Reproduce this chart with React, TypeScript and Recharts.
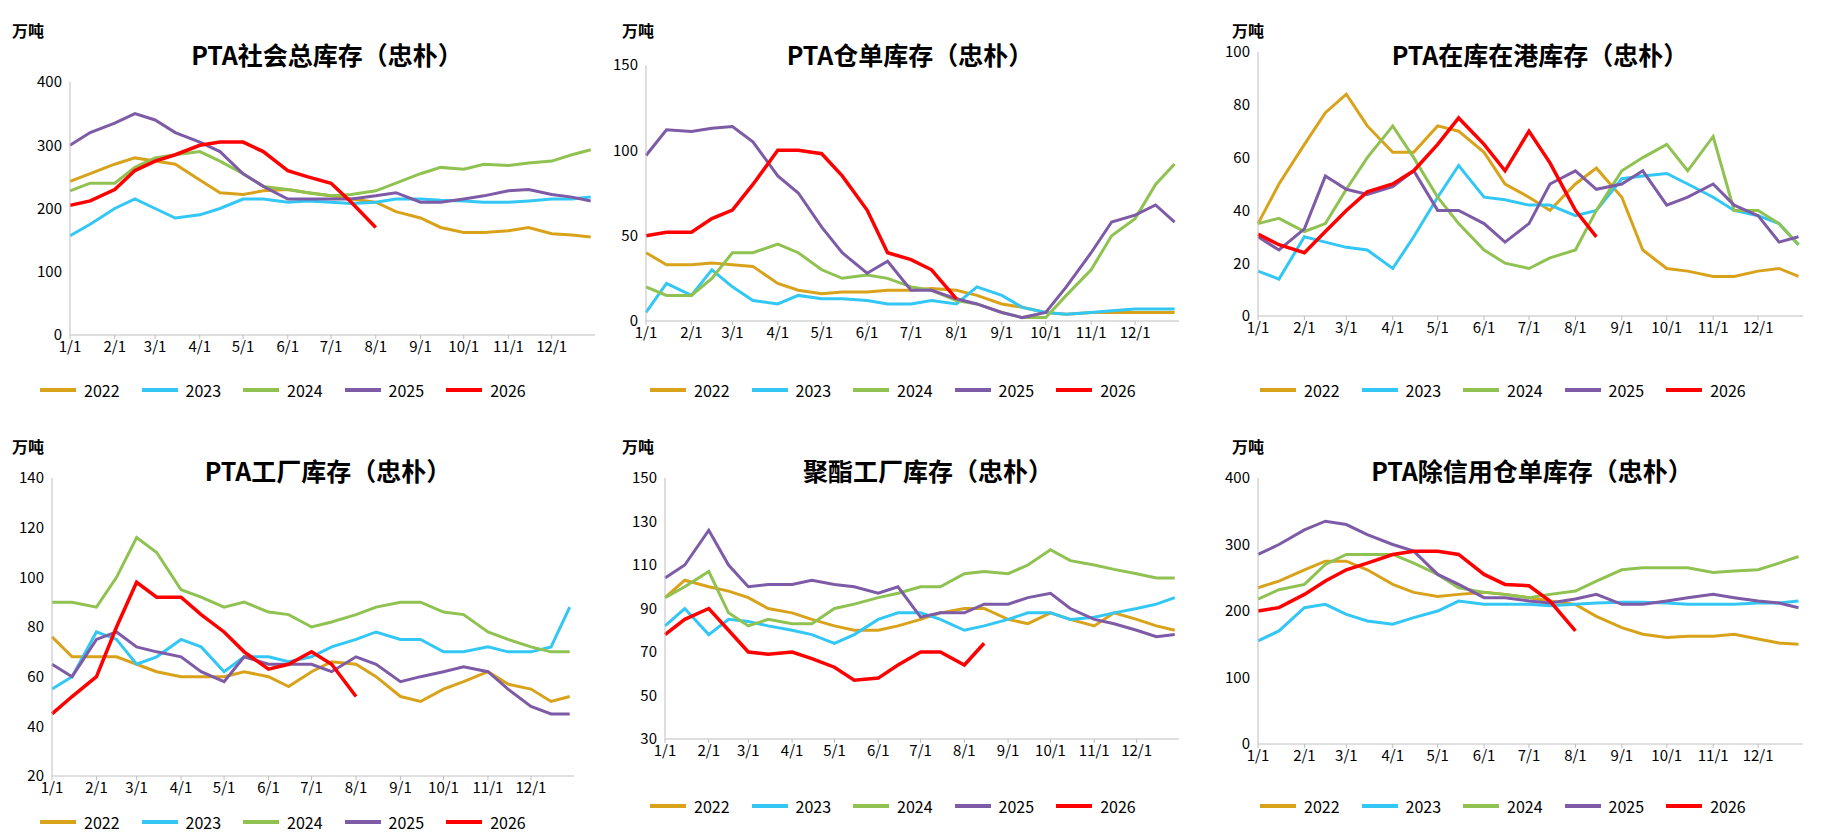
import React from 'react';
import { LineChart, Line, XAxis, YAxis } from 'recharts';

// sample days (half-month steps)
const DAYS = [1, 15, 32, 46, 60, 74, 91, 105, 121, 135, 152, 166, 182, 196, 213, 227, 244, 258, 274, 288, 305, 319, 335, 349, 362];
const MONTH_TICKS = [1, 32, 60, 91, 121, 152, 182, 213, 244, 274, 305, 335];
const MONTH_LABELS = ['1/1', '2/1', '3/1', '4/1', '5/1', '6/1', '7/1', '8/1', '9/1', '10/1', '11/1', '12/1'];
const YEARS = ['2022', '2023', '2024', '2025', '2026'];
const COLORS = ['#D9A21B', '#33C7F5', '#8FC251', '#7D5BA6', '#FF0000'];

const social2022 = [243, 255, 270, 280, 275, 270, 245, 225, 222, 228, 230, 225, 220, 215, 210, 195, 185, 170, 162, 162, 165, 170, 160, 158, 155];
const social2023 = [157, 175, 200, 215, 200, 185, 190, 200, 215, 215, 210, 212, 210, 208, 210, 215, 215, 213, 212, 210, 210, 212, 215, 215, 218];
const social2024 = [228, 240, 240, 265, 280, 285, 290, 275, 255, 235, 230, 225, 220, 222, 228, 240, 255, 265, 262, 270, 268, 272, 275, 285, 293];
const social2025 = [300, 320, 335, 350, 340, 320, 305, 290, 255, 235, 215, 215, 215, 215, 220, 225, 210, 210, 215, 220, 228, 230, 222, 218, 212];
const social2026 = [205, 212, 230, 260, 275, 285, 300, 305, 305, 290, 260, 250, 240, 210, 170];

const receipt2022 = [40, 33, 33, 34, 33, 32, 22, 18, 16, 17, 17, 18, 18, 19, 18, 15, 10, 8, 5, 4, 5, 5, 5, 5, 5];
const receipt2023 = [5, 22, 15, 30, 20, 12, 10, 15, 13, 13, 12, 10, 10, 12, 10, 20, 15, 8, 5, 4, 5, 6, 7, 7, 7];
const receipt2024 = [20, 15, 15, 25, 40, 40, 45, 40, 30, 25, 27, 25, 20, 18, 12, 10, 5, 2, 2, 15, 30, 50, 60, 80, 92];
const receipt2025 = [97, 112, 111, 113, 114, 105, 85, 75, 55, 40, 28, 35, 18, 18, 13, 10, 5, 2, 5, 20, 40, 58, 62, 68, 58];
const receipt2026 = [50, 52, 52, 60, 65, 80, 100, 100, 98, 85, 65, 40, 36, 30, 13];

const port2022 = [35, 50, 65, 77, 84, 72, 62, 62, 72, 70, 62, 50, 45, 40, 50, 56, 45, 25, 18, 17, 15, 15, 17, 18, 15];
const port2023 = [17, 14, 30, 28, 26, 25, 18, 30, 45, 57, 45, 44, 42, 42, 38, 40, 52, 53, 54, 50, 45, 40, 38, 35, 27];
const port2024 = [35, 37, 32, 35, 48, 60, 72, 60, 45, 35, 25, 20, 18, 22, 25, 40, 55, 60, 65, 55, 68, 40, 40, 35, 27];
const port2025 = [30, 25, 33, 53, 48, 46, 49, 55, 40, 40, 35, 28, 35, 50, 55, 48, 50, 55, 42, 45, 50, 42, 38, 28, 30];
const port2026 = [31, 27, 24, 32, 40, 47, 50, 55, 65, 75, 65, 55, 70, 58, 40, 30];

const factory2022 = [76, 68, 68, 68, 65, 62, 60, 60, 60, 62, 60, 56, 62, 66, 65, 60, 52, 50, 55, 58, 62, 57, 55, 50, 52];
const factory2023 = [55, 60, 78, 75, 65, 68, 75, 72, 62, 68, 68, 66, 68, 72, 75, 78, 75, 75, 70, 70, 72, 70, 70, 72, 88];
const factory2024 = [90, 90, 88, 100, 116, 110, 95, 92, 88, 90, 86, 85, 80, 82, 85, 88, 90, 90, 86, 85, 78, 75, 72, 70, 70];
const factory2025 = [65, 60, 75, 78, 72, 70, 68, 62, 58, 68, 65, 65, 65, 62, 68, 65, 58, 60, 62, 64, 62, 55, 48, 45, 45];
const factory2026 = [45, 52, 60, 80, 98, 92, 92, 85, 78, 70, 63, 65, 70, 65, 52];

const polyester2022 = [95, 103, 100, 98, 95, 90, 88, 85, 82, 80, 80, 82, 85, 88, 90, 90, 85, 83, 88, 85, 82, 88, 85, 82, 80];
const polyester2023 = [82, 90, 78, 85, 84, 82, 80, 78, 74, 78, 85, 88, 88, 85, 80, 82, 85, 88, 88, 85, 86, 88, 90, 92, 95];
const polyester2024 = [95, 100, 107, 88, 82, 85, 83, 83, 90, 92, 95, 97, 100, 100, 106, 107, 106, 110, 117, 112, 110, 108, 106, 104, 104];
const polyester2025 = [104, 110, 126, 110, 100, 101, 101, 103, 101, 100, 97, 100, 86, 88, 88, 92, 92, 95, 97, 90, 85, 83, 80, 77, 78];
const polyester2026 = [78, 85, 90, 80, 70, 69, 70, 67, 63, 57, 58, 64, 70, 70, 64, 74];

const noCredit2022 = [235, 245, 262, 275, 275, 262, 240, 228, 222, 225, 228, 225, 220, 215, 210, 192, 175, 165, 160, 162, 162, 165, 158, 152, 150];
const noCredit2023 = [155, 170, 205, 210, 195, 185, 180, 190, 200, 215, 210, 210, 210, 208, 210, 212, 213, 213, 212, 210, 210, 210, 212, 212, 215];
const noCredit2024 = [218, 232, 240, 270, 285, 285, 285, 272, 255, 235, 228, 225, 220, 225, 230, 245, 262, 265, 265, 265, 258, 260, 262, 272, 282];
const noCredit2025 = [285, 300, 322, 335, 330, 315, 300, 290, 255, 240, 220, 220, 215, 212, 218, 225, 210, 210, 215, 220, 225, 220, 215, 212, 205];
const noCredit2026 = [200, 205, 225, 245, 262, 272, 285, 290, 290, 285, 255, 240, 238, 215, 170];

const buildRows = (series: number[][]) =>
  DAYS.map((d, i) => {
    const row: Record<string, number | undefined> = { d };
    series.forEach((s, k) => { row[YEARS[k]] = s[i]; });
    return row;
  });

type PanelProps = {
  title: string;
  series: number[][];
  domain: [number, number];
  ticks: number[];
  plot: { left: number; right: number; top: number; bottom: number; yw: number };
  titleX: number;
  legendTop?: number;
};

const FONT = '"Noto Sans CJK SC", "Noto Sans", sans-serif';

const Panel: React.FC<PanelProps> = ({ title, series, domain, ticks, plot, titleX, legendTop = 378 }) => {
  const data = buildRows(series);
  return (
    <div style={{ position: 'relative', width: 610, height: 416, fontFamily: FONT }}>
      <div style={{ position: 'absolute', left: 12, top: 18, fontSize: 16, fontWeight: 'bold' }}>万吨</div>
      <div style={{ position: 'absolute', left: titleX - 200, width: 400, top: 36, textAlign: 'center', fontSize: 25, fontWeight: 'bold' }}>{title}</div>
      <LineChart width={610} height={416} data={data}
        margin={{ top: plot.top, right: 610 - plot.right, left: plot.left - plot.yw, bottom: 416 - plot.bottom - 30 }}>
        <XAxis dataKey="d" type="number" domain={[1, 365]} ticks={MONTH_TICKS} interval={0}
          tickFormatter={(v) => MONTH_LABELS[MONTH_TICKS.indexOf(v)]}
          tick={{ fontSize: 15, fill: '#000' }} stroke="#bfbfbf" tickSize={4} height={30} />
        <YAxis domain={domain} ticks={ticks} width={plot.yw} allowDataOverflow
          tick={{ fontSize: 15, fill: '#000' }} stroke="#bfbfbf" tickLine={false} />
        {YEARS.map((y, k) => (
          <Line key={y} dataKey={y} stroke={COLORS[k]} strokeWidth={k === 4 ? 3.5 : 3}
            dot={false} type="linear" isAnimationActive={false} connectNulls={false} />
        ))}
      </LineChart>
      <div style={{ position: 'absolute', top: legendTop, left: 40, display: 'flex', gap: 22, fontSize: 16 }}>
        {YEARS.map((y, k) => (
          <div key={y} style={{ display: 'flex', alignItems: 'center', gap: 8 }}>
            <div style={{ width: 36, height: 4, background: COLORS[k] }} />
            <span>{y}</span>
          </div>
        ))}
      </div>
    </div>
  );
};

const App: React.FC = () => (
  <div style={{ position: 'absolute', left: 0, top: 0, width: 1830, height: 832, background: '#fff', display: 'flex', flexWrap: 'wrap' }}>
    <Panel title="PTA社会总库存（忠朴）" series={[social2022, social2023, social2024, social2025, social2026]}
      domain={[0, 400]} ticks={[0, 100, 200, 300, 400]} titleX={327}
      plot={{ left: 70, right: 595, top: 82, bottom: 335, yw: 40 }} />
    <Panel title="PTA仓单库存（忠朴）" series={[receipt2022, receipt2023, receipt2024, receipt2025, receipt2026]}
      domain={[0, 150]} ticks={[0, 50, 100, 150]} titleX={300}
      plot={{ left: 36, right: 569, top: 65, bottom: 321, yw: 36 }} />
    <Panel title="PTA在库在港库存（忠朴）" series={[port2022, port2023, port2024, port2025, port2026]}
      domain={[0, 100]} ticks={[0, 20, 40, 60, 80, 100]} titleX={320}
      plot={{ left: 38, right: 583, top: 52, bottom: 316, yw: 38 }} />
    <Panel title="PTA工厂库存（忠朴）" series={[factory2022, factory2023, factory2024, factory2025, factory2026]}
      domain={[20, 140]} ticks={[20, 40, 60, 80, 100, 120, 140]} titleX={328}
      plot={{ left: 52, right: 574, top: 62, bottom: 360, yw: 40 }} legendTop={394} />
    <Panel title="聚酯工厂库存（忠朴）" series={[polyester2022, polyester2023, polyester2024, polyester2025, polyester2026]}
      domain={[30, 150]} ticks={[30, 50, 70, 90, 110, 130, 150]} titleX={318}
      plot={{ left: 55, right: 569, top: 62, bottom: 323, yw: 40 }} />
    <Panel title="PTA除信用仓单库存（忠朴）" series={[noCredit2022, noCredit2023, noCredit2024, noCredit2025, noCredit2026]}
      domain={[0, 400]} ticks={[0, 100, 200, 300, 400]} titleX={312}
      plot={{ left: 38, right: 583, top: 62, bottom: 328, yw: 38 }} />
  </div>
);

export default App;
